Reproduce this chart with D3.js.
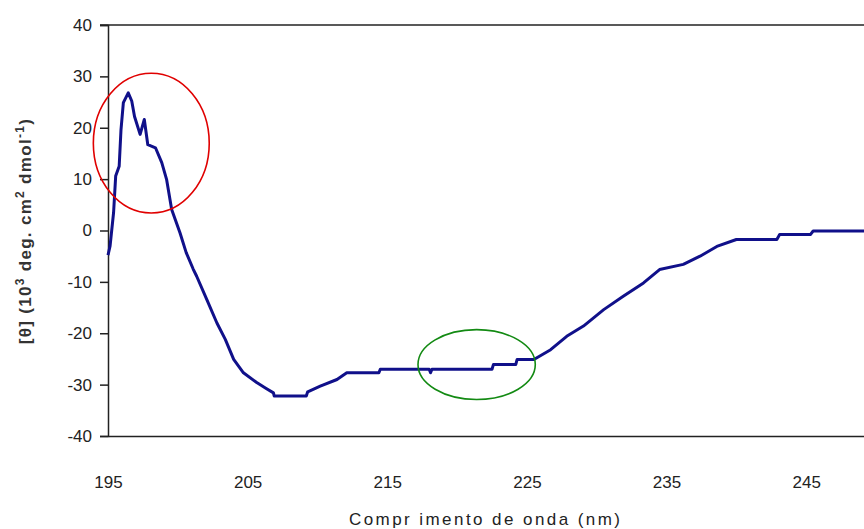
<!DOCTYPE html>
<html>
<head>
<meta charset="utf-8">
<script src="https://cdn.jsdelivr.net/npm/d3@7"></script>
<style>
  html, body { margin: 0; padding: 0; background: #fff; overflow: hidden; }
  svg { display: block; font-family: "Liberation Sans", Arial, sans-serif; }
</style>
</head>
<body>
<div id="root"></div>
<script>
// CD spectrum, values
const wavelengths = [
  195.0, 195.15, 195.4, 195.55, 195.8, 195.93, 196.1, 196.45, 196.7, 196.9,
  197.3, 197.6, 197.85, 198.4, 198.85, 199.2, 199.56, 200.16, 200.6, 201.1,
  201.35, 202.07, 202.8, 203.4, 204.0, 204.7, 205.65, 206.3, 206.85, 206.9,
  209.2, 209.3, 210.2, 211.4, 212.1, 214.4, 214.5, 218.0, 218.1, 218.2,
  222.5, 222.6, 224.2, 224.3, 225.5, 226.7, 227.85, 229.05, 230.5, 231.9,
  233.35, 234.5, 236.2, 237.4, 238.6, 240.0, 242.9, 243.1, 245.3, 245.5,
  250.0
];
const ellipticity = [
  -4.8, -3.0, 3.5, 10.6, 12.5, 19.6, 24.9, 26.8, 25.2, 22.2,
  18.7, 21.6, 16.7, 16.1, 13.2, 9.9, 4.1, -0.5, -4.3, -7.5,
  -8.9, -13.4, -18.0, -21.2, -25.1, -27.7, -29.6, -30.7, -31.6, -32.2,
  -32.2, -31.4, -30.3, -29.0, -27.7, -27.7, -27.0, -27.0, -27.7, -27.0,
  -27.0, -26.1, -26.1, -25.1, -25.1, -23.2, -20.6, -18.6, -15.4, -12.8,
  -10.2, -7.6, -6.6, -5.0, -3.1, -1.75, -1.75, -0.8, -0.8, -0.1,
  -0.1
];
const xTicks = [195, 205, 215, 225, 235, 245];
const yTicks = [-40, -30, -20, -10, 0, 10, 20, 30, 40];

// highlighted regions, in data units: [centre wl, centre value, half-width nm, half-height units]
const redMark = [198.1, 17.0, 4.15, 13.6];
const greenMark = [221.4, -26.1, 4.2, 6.8];

const width = 864;
const height = 529;
const plot = { left: 108, top: 25, right: 876, bottom: 436 };

const svg = d3.select('#root')
  .append('svg')
  .attr('width', width)
  .attr('height', height);

const x = d3.scaleLinear().domain([195, 250]).range([plot.left, plot.right]);
const y = d3.scaleLinear().domain([-40, 40]).range([plot.bottom, plot.top]);

// top gridline at 40
svg.append('line')
  .attr('x1', plot.left - 8).attr('x2', width)
  .attr('y1', y(40)).attr('y2', y(40))
  .attr('stroke', '#222').attr('stroke-width', 1.5);

// y axis
const yAxis = svg.append('g')
  .attr('transform', `translate(${plot.left},0)`)
  .call(d3.axisLeft(y).tickValues(yTicks).tickSize(8).tickPadding(8)
    .tickFormat(d => d < 0 ? '-' + Math.abs(d) : d));
yAxis.select('.domain').attr('stroke', '#222').attr('stroke-width', 1.5);
yAxis.selectAll('.tick line').attr('stroke', '#222').attr('stroke-width', 1.5);
yAxis.selectAll('.tick text')
  .attr('fill', '#222')
  .style('font-size', '17px')
  .style('font-family', '"Liberation Sans", Arial, sans-serif');

// x axis (no tick marks)
const xAxis = svg.append('g')
  .attr('transform', `translate(0,${plot.bottom})`)
  .call(d3.axisBottom(x).tickValues(xTicks).tickSize(0).tickPadding(40));
xAxis.select('.domain').attr('stroke', '#222').attr('stroke-width', 1.5);
xAxis.selectAll('.tick text')
  .attr('fill', '#222')
  .style('font-size', '17px')
  .style('font-family', '"Liberation Sans", Arial, sans-serif');

// spectrum
const points = wavelengths.map((w, i) => [w, ellipticity[i]]);
svg.append('path')
  .datum(points)
  .attr('fill', 'none')
  .attr('stroke', '#10108a')
  .attr('stroke-width', 3)
  .attr('stroke-linejoin', 'round')
  .attr('d', d3.line().x(d => x(d[0])).y(d => y(d[1])));

// ellipses around the interesting bits
[[redMark, '#e00000'], [greenMark, '#138a13']].forEach(([m, col]) => {
  svg.append('ellipse')
    .attr('cx', x(m[0]))
    .attr('cy', y(m[1]))
    .attr('rx', x(m[0] + m[2]) - x(m[0]))
    .attr('ry', y(m[1] - m[3]) - y(m[1]))
    .attr('fill', 'none')
    .attr('stroke', col)
    .attr('stroke-width', 1.6);
});

// axis titles
svg.append('text')
  .attr('x', 349)
  .attr('y', 525)
  .attr('textLength', 271)
  .attr('lengthAdjust', 'spacing')
  .attr('fill', '#222')
  .style('font-size', '17px')
  .text('Compr imento de onda (nm)');

const yTitle = svg.append('text')
  .attr('transform', 'translate(31,231) rotate(-90)')
  .attr('text-anchor', 'middle')
  .attr('fill', '#333')
  .style('font-size', '17px')
  .style('font-weight', 'bold')
  .style('letter-spacing', '1.3px');
yTitle.append('tspan').text('[θ] (10');
yTitle.append('tspan').attr('dy', -7).style('font-size', '12px').text('3');
yTitle.append('tspan').attr('dy', 7).text(' deg. cm');
yTitle.append('tspan').attr('dy', -7).style('font-size', '12px').text('2');
yTitle.append('tspan').attr('dy', 7).text(' dmol');
yTitle.append('tspan').attr('dy', -7).style('font-size', '12px').text('-1');
yTitle.append('tspan').attr('dy', 7).text(')');
</script>
</body>
</html>
